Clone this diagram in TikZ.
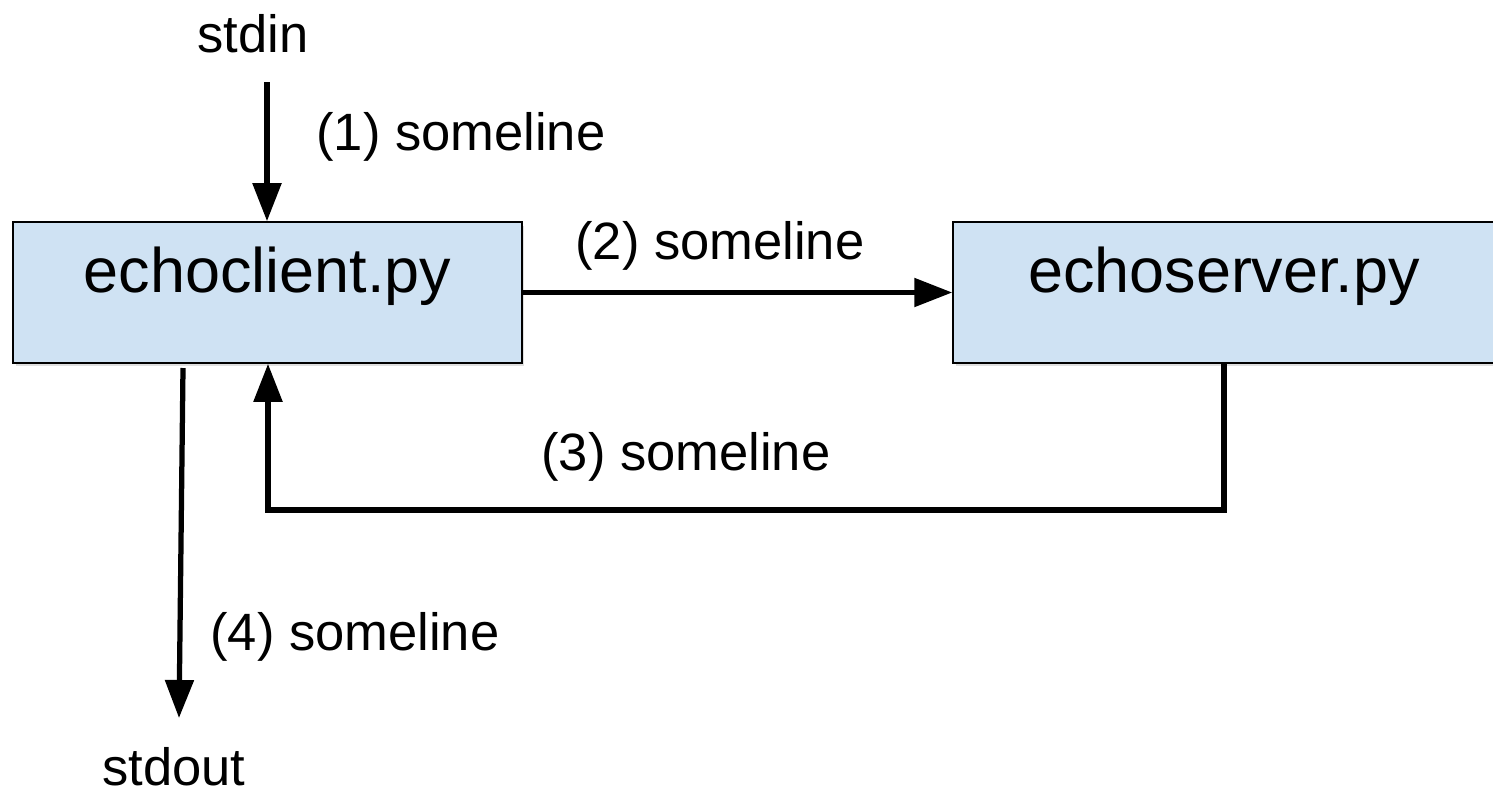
\documentclass[tikz,border=0pt]{standalone}
\usepackage{fontspec}
\setmainfont{Liberation Sans}
\usetikzlibrary{arrows.meta,shadows}
\definecolor{boxblue}{HTML}{CFE2F3}
\begin{document}
\begin{tikzpicture}[x=0.02cm,y=-0.02cm,
  box/.style={draw=black, line width=0.9pt, fill=boxblue, rectangle, inner sep=0pt,
    text height=1.4cm, text depth=1.42cm, anchor=base,
    font=\fontsize{35.8pt}{40pt}\selectfont,
    drop shadow={shadow xshift=0.05cm, shadow yshift=-0.07cm, opacity=0.25}},
  lbl/.style={inner sep=0pt, font=\fontsize{29.9pt}{34pt}\selectfont},
  arr/.style={line width=0.105cm, -{Triangle[length=0.76cm,width=0.56cm]}}
]
\useasboundingbox (0,0) rectangle (1493,791);
\clip (0,0) rectangle (1493,791);

\node[box, minimum width=10.18cm] (client) at (267.5,292) {echoclient.py};
\node[box, minimum width=10.84cm] (server) at (1224,292) {echoserver.py};

\node[lbl] (stdin) at (253,34) {stdin};
\node[lbl] (stdout) at (174,767) {stdout};

\node[lbl, anchor=west] (l1) at (316,137) {(1) someline};
\node[lbl, anchor=west] (l2) at (575,246) {(2) someline};
\node[lbl, anchor=west] (l3) at (541,457) {(3) someline};
\node[lbl, anchor=west] (l4) at (210,637) {(4) someline};

\coordinate (in1) at (267,82);
\coordinate (ret) at (268,510);
\coordinate (out1) at (183,368);
\coordinate (out2) at (179,718);

\draw[arr] (in1) -- (in1 |- client.north);
\draw[arr] (client.east) -- (server.west);
\draw[arr] (server.south) |- (ret) -- (ret |- client.south);
\draw[arr] (out1) -- (out2);
\end{tikzpicture}
\end{document}
